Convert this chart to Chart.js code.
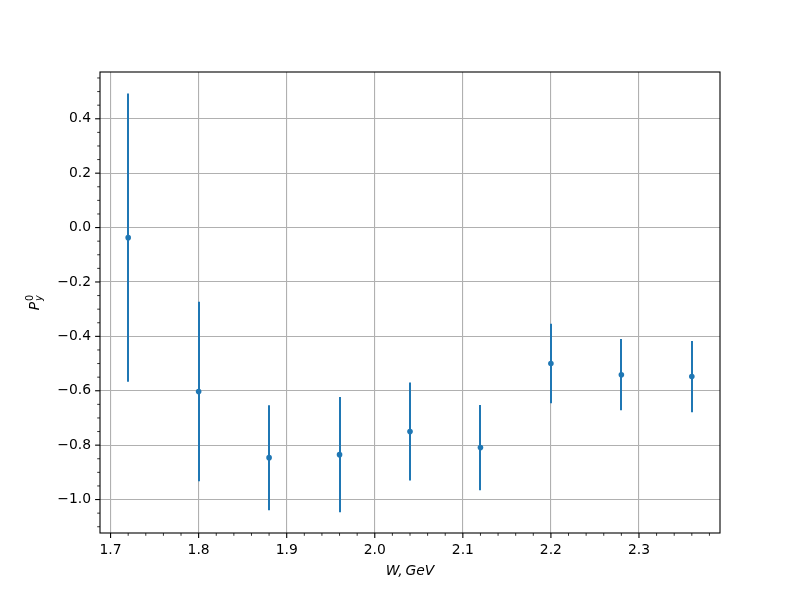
<!DOCTYPE html>
<html>
<head>
<meta charset="utf-8">
<script src="https://cdn.jsdelivr.net/npm/chart.js@4/dist/chart.umd.min.js"></script>
<style>
  html, body { margin: 0; padding: 0; background: #fff; }
  #wrap { width: 800px; height: 600px; }
</style>
</head>
<body>
<div id="wrap"><canvas id="grafico" width="800" height="600"></canvas></div>
<script>
// data
const wValues = [1.72, 1.80, 1.88, 1.96, 2.04, 2.12, 2.20, 2.28, 2.36];
const pyValues = [-0.037, -0.603, -0.846, -0.835, -0.750, -0.809, -0.500, -0.541, -0.548];
const pyErrors = [0.530, 0.330, 0.193, 0.212, 0.180, 0.157, 0.146, 0.131, 0.131];
const xTicks = [1.7, 1.8, 1.9, 2.0, 2.1, 2.2, 2.3];
const yTicks = [-1.0, -0.8, -0.6, -0.4, -0.2, 0.0, 0.2, 0.4];

const azul = "#1f77b4";
const fonte = "DejaVu Sans";
const fmt = (v) => v.toFixed(1).replace("-", "\u2212");

// error bars under the markers
const errorBars = {
  id: "errorBars",
  beforeDatasetsDraw(chart) {
    const { ctx, scales: { x, y } } = chart;
    ctx.save();
    ctx.strokeStyle = azul;
    ctx.lineWidth = 2;
    wValues.forEach((w, i) => {
      const px = Math.round(x.getPixelForValue(w));
      ctx.beginPath();
      ctx.moveTo(px, y.getPixelForValue(pyValues[i] - pyErrors[i]));
      ctx.lineTo(px, y.getPixelForValue(pyValues[i] + pyErrors[i]));
      ctx.stroke();
    });
    ctx.restore();
  }
};

// frame, tick marks, axis titles
const moldura = {
  id: "moldura",
  afterDraw(chart) {
    const { ctx, chartArea: a, scales: { x, y } } = chart;
    ctx.save();
    ctx.strokeStyle = "#000";

    // minor ticks
    ctx.lineWidth = 0.8;
    for (let k = Math.ceil(x.min / 0.02); k <= Math.floor(x.max / 0.02); k++) {
      if (k % 5 === 0) continue;
      const px = x.getPixelForValue(k * 0.02);
      ctx.beginPath(); ctx.moveTo(px, a.bottom); ctx.lineTo(px, a.bottom + 2.8); ctx.stroke();
    }
    for (let k = Math.ceil(y.min / 0.05); k <= Math.floor(y.max / 0.05); k++) {
      if (k % 4 === 0) continue;
      const py = y.getPixelForValue(k * 0.05);
      ctx.beginPath(); ctx.moveTo(a.left, py); ctx.lineTo(a.left - 2.8, py); ctx.stroke();
    }

    // major ticks
    ctx.lineWidth = 1.1;
    xTicks.forEach((v) => {
      const px = x.getPixelForValue(v);
      ctx.beginPath(); ctx.moveTo(px, a.bottom); ctx.lineTo(px, a.bottom + 4.9); ctx.stroke();
    });
    yTicks.forEach((v) => {
      const py = y.getPixelForValue(v);
      ctx.beginPath(); ctx.moveTo(a.left, py); ctx.lineTo(a.left - 4.9, py); ctx.stroke();
    });

    // axes box
    ctx.lineWidth = 1.1;
    ctx.strokeRect(a.left, a.top, a.right - a.left, a.bottom - a.top);

    // x title
    ctx.fillStyle = "#000";
    ctx.font = "italic 13.9px " + fonte;
    ctx.textAlign = "center";
    ctx.textBaseline = "middle";
    ctx.fillText("W,\u2009GeV", (a.left + a.right) / 2, 571);

    // y title: P_y^0
    ctx.translate(39, (a.top + a.bottom) / 2);
    ctx.rotate(-Math.PI / 2);
    ctx.textAlign = "left";
    ctx.textBaseline = "alphabetic";
    ctx.font = "italic 13.9px " + fonte;
    const wP = ctx.measureText("P").width;
    ctx.font = "9.7px " + fonte;
    const w0 = ctx.measureText("0").width;
    ctx.font = "italic 9.7px " + fonte;
    const wy = ctx.measureText("y").width;
    const total = wP + 1 + Math.max(w0, wy);
    const x0 = -total / 2;
    ctx.font = "italic 13.9px " + fonte;
    ctx.fillText("P", x0, 0);
    ctx.font = "9.7px " + fonte;
    ctx.fillText("0", x0 + wP + 1, -6);
    ctx.font = "italic 9.7px " + fonte;
    ctx.fillText("y", x0 + wP + 1, 3);
    ctx.restore();
  }
};

const ctx = document.getElementById("grafico").getContext("2d");
new Chart(ctx, {
  type: "scatter",
  data: {
    datasets: [{
      label: "Py0",
      data: wValues.map((w, i) => ({ x: w, y: pyValues[i] })),
      backgroundColor: azul,
      borderColor: azul,
      pointRadius: 2.8,
      pointBorderWidth: 0
    }]
  },
  options: {
    responsive: false,
    animation: false,
    devicePixelRatio: 1,
    layout: { padding: { top: 72, right: 80, left: 0, bottom: 0 } },
    plugins: {
      legend: { display: false },
      tooltip: { enabled: false }
    },
    scales: {
      x: {
        type: "linear",
        min: 1.688,
        max: 2.392,
        afterBuildTicks: (s) => { s.ticks = xTicks.map((v) => ({ value: v })); },
        afterFit: (s) => { s.height = 67; },
        border: { display: false },
        grid: { color: "#b0b0b0", lineWidth: 1.1, drawTicks: false },
        ticks: {
          padding: 9,
          color: "#000",
          font: { family: fonte, size: 13.9 },
          maxRotation: 0,
          callback: (v) => fmt(v)
        }
      },
      y: {
        type: "linear",
        min: -1.123,
        max: 0.572,
        afterBuildTicks: (s) => { s.ticks = yTicks.map((v) => ({ value: v })); },
        afterFit: (s) => { s.width = 100; },
        border: { display: false },
        grid: { color: "#b0b0b0", lineWidth: 1.1, drawTicks: false },
        ticks: {
          padding: 9,
          color: "#000",
          font: { family: fonte, size: 13.9 },
          callback: (v) => fmt(v)
        }
      }
    }
  },
  plugins: [errorBars, moldura]
});
</script>
</body>
</html>
